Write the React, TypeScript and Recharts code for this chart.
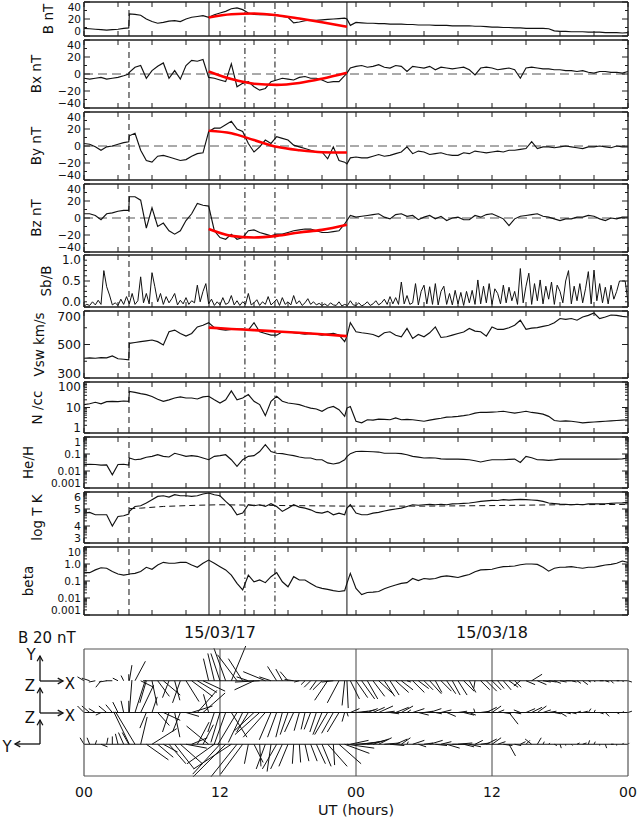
import React from 'react'
import { ComposedChart, Line, ReferenceLine, XAxis, YAxis } from 'recharts'

const FONT = '"DejaVu Sans", Verdana, sans-serif'
const INK = '#111'
const FRAME = '#1e1e1e'
const W = 639
const H = 821
const PLOT_L = 84
const PLOT_R = 628

// hours after 2015-03-17 00 UT
const TIME = [
  0, 0.5, 1, 1.5, 2, 2.5, 3, 3.5, 3.95,
  4, 4.5, 5, 5.5, 6, 6.5, 7, 7.5, 8, 8.5, 9, 9.5,
  10, 10.5, 11, 11.5, 12, 12.5, 13, 13.5, 14, 14.5, 15, 15.5,
  16, 16.5, 17, 17.5, 18, 18.5, 19, 19.5, 20, 20.5, 21, 21.5,
  22, 22.5, 23, 23.2, 23.5,
  24, 24.5, 25, 25.5, 26, 26.5, 27, 27.5, 28, 28.5, 29, 29.5,
  30, 30.5, 31, 31.5, 32, 32.5, 33, 33.5, 34, 34.5, 35, 35.5,
  36, 36.5, 37, 37.5, 38, 38.5, 39, 39.5, 40, 40.5, 41, 41.5,
  42, 42.5, 43, 43.5, 44, 44.5, 45, 45.5, 46, 46.5, 47, 47.5, 48,
]

const B_MAG = [
  9, 8.5, 8, 7.5, 7, 7.5, 8, 9, 9.5,
  26, 25.5, 24.5, 20, 17, 15, 16, 17.5, 18, 17, 20, 22,
  23, 24, 22, 25, 27, 29, 32, 33, 31, 27, 25.5, 25,
  25.5, 24.5, 25, 23, 22, 15.5, 16.5, 18, 18.5, 18.5, 19, 19.5,
  20, 20.5, 21, 20, 12.5,
  16, 15.5, 15, 15, 14.5, 14.5, 14, 14, 14, 13.5, 13.5, 13,
  13, 13, 12.5, 12.5, 12.5, 12, 12, 12, 12, 11.5, 11.5, 11,
  10.5, 10.5, 10, 10, 9.5, 9.5, 9, 9, 9, 9, 8.5, 6,
  5.5, 5.5, 5, 5, 5, 4.5, 4.5, 4.5, 4, 4, 4, 3.5, 4,
]

const BX = [
  -5, -6, -5, -4, -6, -5, -4, -2, 0,
  2, 8, 10, -5, 4, 9, 13, -5, 4, -6, 10, 16,
  15, 17, -4, -5, -7, -9, 12, -15, -11, -9, -15, -19,
  -17, -9, -7, -5, -6, -7, -4, -3, -5, -5, -7, -10,
  -9, -9, -2, 1, 7,
  9, 10, 8, 9, 11, 8, 7, 10, 9, 3, 9, 8,
  7, 9, 5, 8, 7, 6, 7, 8, 5, -1, 7, 8,
  7, 5, 6, 7, 5, -5, 7, 8, 7, 6, 6, 5,
  5, 4, 4, 3, 4, 2, 1, 3, 3, 2, 2, 1, 3,
]

const BY = [
  3, 2, -1, -5, -1, 0, 2, 4, 5,
  12, 15, -5, -17, -19, -12, -11, -13, -15, -17, -16, -12,
  -9, -8, 17, 21, 21, 25, 29, 20, 17, 3, -7, -1,
  7, 3, 11, 9, 7, 1, -1, -3, -5, -7, -7, -15,
  -1, -17, -19, -21, -14,
  -13, -14, -14, -12, -10, -12, -11, -9, -7, -1, -9, -6,
  -7, -10, -9, -8, -10, -11, -11, -8, -9, -6, -7, -8,
  -7, -6, -7, -5, -5, -4, -3, 5, -3, -1, -1, -2,
  -1, 0, -1, -2, -3, -1, -1, 0, -1, -2, 0, -1, -1,
]

const BZ = [
  5, 5, 3, -2, 5, 6, 8, 9, 9,
  25, 25, 21, -12, 12, -10, -6, -15, -19, -15, -3, 5,
  17, 15, 14, -15, -23, -25, -19, -25, -23, -15, -14, -17,
  -19, -21, -19, -19, -17, -15, -14, -13, -13, -15, -17, -17,
  -16, -15, -7, -3, 3,
  1, 2, 3, 4, 5, 1, -1, 4, 5, 2, 3, -2,
  1, 3, -1, 2, -3, 0, 1, -2, -2, 3, 1, 4,
  5, 2, -1, -9, -1, 2, 3, 4, 5, 2, 1, -1,
  -3, -1, -1, 1, 1, 3, 2, -1, -3, 0, -1, 1, 1,
]

const VSW = [
  418, 420, 418, 422, 420, 432, 415, 412, 408,
  507, 512, 517, 522, 527, 517, 497, 576, 586, 566, 550, 566,
  605, 615, 630, 601, 590, 586, 590, 590, 592, 586, 630, 576,
  566, 556, 556, 576, 576, 570, 566, 562, 566, 562, 556, 562,
  566, 556, 517, 550, 630,
  576, 570, 566, 560, 546, 570, 576, 555, 546, 596, 536, 560,
  546, 570, 605, 542, 546, 556, 566, 575, 596, 580, 576, 550,
  605, 590, 590, 600, 615, 645, 590, 598, 601, 608, 615, 630,
  655, 650, 655, 645, 664, 674, 688, 655, 664, 676, 674, 668, 664,
]

const NP = [
  13, 14, 16, 14, 17, 17.5, 17, 18, 17.5,
  43, 39, 35, 32, 27, 21, 17.5, 20, 23.5, 26, 23.5, 23.5,
  21.5, 26, 27.5, 20, 15, 20, 45, 20, 23.5, 32, 17.5, 13,
  4.8, 17.5, 27.5, 17.5, 15, 14, 13, 11, 9.5, 8.7, 7.1, 9.5,
  11, 8.2, 4.5, 9.5, 11,
  2.9, 2.5, 3.3, 3.2, 3.5, 3.4, 3.3, 3.9, 3.3, 3.4, 3.3, 3.1,
  2.9, 3.2, 3.5, 3.8, 4.2, 4.3, 4.5, 4.8, 5.2, 6, 6.5, 6.4,
  6.6, 6.8, 7.1, 6.5, 6, 6.5, 7.1, 6.4, 6, 5.5, 4.5, 3.1,
  2.9, 3, 2.9, 2.7, 2.5, 2.6, 2.7, 2.8, 2.9, 3, 3.1, 3.2, 3.3,
]

const HE_H = [
  0.024, 0.025, 0.024, 0.022, 0.023, 0.006, 0.024, 0.025, 0.022,
  0.058, 0.046, 0.05, 0.064, 0.073, 0.091, 0.073, 0.067, 0.11, 0.091, 0.073, 0.08,
  0.073, 0.058, 0.046, 0.073, 0.08, 0.091, 0.046, 0.019, 0.046, 0.073, 0.08, 0.14,
  0.35, 0.14, 0.11, 0.105, 0.091, 0.08, 0.067, 0.058, 0.058, 0.046, 0.046, 0.03,
  0.026, 0.03, 0.046, 0.07, 0.105,
  0.14, 0.145, 0.14, 0.135, 0.13, 0.11, 0.11, 0.11, 0.105, 0.09, 0.073, 0.065,
  0.058, 0.06, 0.058, 0.052, 0.05, 0.05, 0.05, 0.048, 0.046, 0.04, 0.034, 0.04,
  0.046, 0.046, 0.046, 0.048, 0.05, 0.032, 0.073, 0.06, 0.046, 0.045, 0.042, 0.045,
  0.05, 0.05, 0.05, 0.05, 0.05, 0.05, 0.05, 0.05, 0.05, 0.05, 0.05, 0.052, 0.058,
]

const LOG_T = [
  4.76, 4.8, 4.66, 4.66, 4.66, 4.0, 4.56, 4.6, 4.7,
  4.86, 5.15, 5.19, 5.35, 5.55, 5.74, 5.78, 5.7, 5.84, 5.78, 5.78, 5.74,
  5.78, 5.88, 5.94, 5.84, 5.78, 5.45, 5.15, 4.66, 4.76, 5.25, 5.19, 5.25,
  5.15, 5.31, 5.15, 4.86, 5.05, 5.25, 5.11, 5.05, 4.95, 4.8, 4.76, 4.86,
  4.66, 4.76, 4.66, 5.05, 5.25,
  4.76, 4.66, 4.66, 4.76, 4.8, 4.88, 4.95, 5.0, 5.05, 5.15, 5.25, 5.22,
  5.25, 5.27, 5.25, 5.28, 5.25, 5.3, 5.31, 5.33, 5.35, 5.4, 5.45, 5.48,
  5.51, 5.5, 5.55, 5.52, 5.55, 5.57, 5.55, 5.53, 5.51, 5.45, 5.35, 5.32,
  5.29, 5.27, 5.25, 5.28, 5.25, 5.3, 5.31, 5.3, 5.31, 5.33, 5.35, 5.36, 5.39,
]

const BETA = [
  0.31, 0.31, 0.45, 0.6, 0.56, 0.36, 0.26, 0.22, 0.25,
  0.26, 0.28, 0.36, 0.64, 0.49, 0.87, 1.25, 1.1, 1.1, 1.25, 1.25, 0.87,
  0.64, 1.1, 1.7, 1.1, 0.7, 0.45, 0.22, 0.072, 0.03, 0.22, 0.09, 0.115,
  0.08, 0.18, 0.31, 0.09, 0.046, 0.18, 0.115, 0.115, 0.072, 0.046, 0.037, 0.032,
  0.027, 0.024, 0.027, 0.072, 0.28,
  0.037, 0.016, 0.021, 0.022, 0.024, 0.035, 0.046, 0.058, 0.072, 0.08, 0.14, 0.105,
  0.14, 0.13, 0.14, 0.18, 0.2, 0.18, 0.16, 0.2, 0.24, 0.35, 0.45, 0.47,
  0.49, 0.6, 0.7, 0.72, 0.76, 0.9, 1.0, 1.0, 0.95, 0.64, 0.38, 0.56,
  0.64, 0.66, 0.7, 0.62, 0.56, 0.64, 0.64, 0.75, 0.87, 0.95, 1.1, 1.5, 1.25,
]

// Sb/B at 15 min resolution, 4 h per row
const SB_STEP = 0.25
const SB = [
  0.02, 0.05, 0.03, 0.10, 0.04, 0.13, 0.05, 0.70, 0.39, 0.23, 0.04, 0.08, 0.03, 0.15, 0.05, 0.20,
  0.06, 0.26, 0.05, 0.12, 0.58, 0.08, 0.26, 0.06, 0.66, 0.39, 0.10, 0.26, 0.05, 0.20, 0.08, 0.16,
  0.26, 0.04, 0.13, 0.06, 0.18, 0.05, 0.12, 0.08, 0.42, 0.10, 0.30, 0.45, 0.06, 0.15, 0.03, 0.10,
  0.04, 0.18, 0.05, 0.08, 0.22, 0.04, 0.12, 0.03, 0.10, 0.05, 0.26, 0.04, 0.08, 0.14, 0.03, 0.10,
  0.05, 0.20, 0.04, 0.09, 0.15, 0.03, 0.18, 0.05, 0.10, 0.04, 0.22, 0.06, 0.12, 0.03, 0.08, 0.16,
  0.05, 0.10, 0.04, 0.07, 0.03, 0.06, 0.02, 0.08, 0.04, 0.03, 0.10, 0.02, 0.05, 0.03, 0.12, 0.04,
  0.03, 0.08, 0.02, 0.05, 0.10, 0.03, 0.06, 0.12, 0.04, 0.08, 0.15, 0.05, 0.20, 0.06, 0.18, 0.05,
  0.48, 0.06, 0.22, 0.05, 0.08, 0.45, 0.04, 0.30, 0.42, 0.06, 0.39, 0.05, 0.45, 0.04, 0.30, 0.40,
  0.05, 0.26, 0.04, 0.32, 0.06, 0.28, 0.03, 0.30, 0.08, 0.32, 0.05, 0.52, 0.06, 0.40, 0.08, 0.45,
  0.05, 0.35, 0.26, 0.06, 0.42, 0.08, 0.38, 0.12, 0.30, 0.05, 0.74, 0.08, 0.40, 0.65, 0.05, 0.45,
  0.12, 0.52, 0.06, 0.40, 0.15, 0.48, 0.05, 0.42, 0.30, 0.08, 0.50, 0.70, 0.06, 0.40, 0.12, 0.45,
  0.08, 0.35, 0.68, 0.06, 0.71, 0.12, 0.45, 0.08, 0.38, 0.06, 0.42, 0.15, 0.30, 0.50, 0.50, 0.50,
  0.10,
]

// flux rope fit (red curves)
const FIT_T = [11, 13, 15, 17, 19, 21, 23.2]
const B_FIT = [21.7, 25.6, 26.4, 24.5, 20.6, 16.2, 10.9]
const BX_FIT = [3, -6, -11.5, -12.8, -10.5, -5.5, 1.5]
const BY_FIT = [18, 15, 7, -1, -5, -7.3, -7.6]
const BZ_FIT = [-13, -21, -23, -21, -17, -14, -8]
const V_FIT = [601, 593, 586, 578, 570, 561, 550]

// expected temperature (dashed)
const TEXP_T = [4, 5, 7, 10, 12, 18, 23, 30, 36, 42, 48]
const TEXP = [5.02, 5.05, 5.15, 5.22, 5.25, 5.2, 5.17, 5.17, 5.2, 5.25, 5.27]

// shock, boundaries and sub-intervals
const EVENT_T = [3.97, 11.03, 14.2, 16.85, 23.2]
const EVENT_DASH = ['6 4', undefined, '6 3 1.5 3', '6 3 1.5 3', undefined]

const X_TICKS = [0, 3, 6, 9, 12, 15, 18, 21, 24, 27, 30, 33, 36, 39, 42, 45, 48]
const HOURS = [0, 12, 24, 36, 48]
const HOUR_LABELS = ['00', '12', '00', '12', '00']
const DATE_T = [12, 36]
const DATE_LABELS = ['15/03/17', '15/03/18']

const at = (ts: number[], vs: number[], t: number) => {
  const i = ts.indexOf(t)
  return i < 0 ? null : vs[i]
}

const rows = TIME.map((t, i) => ({
  t,
  b: B_MAG[i],
  bx: BX[i],
  by: BY[i],
  bz: BZ[i],
  v: VSW[i],
  n: NP[i],
  he: HE_H[i],
  lt: LOG_T[i],
  beta: BETA[i],
  bFit: at(FIT_T, B_FIT, t),
  bxFit: at(FIT_T, BX_FIT, t),
  byFit: at(FIT_T, BY_FIT, t),
  bzFit: at(FIT_T, BZ_FIT, t),
  vFit: at(FIT_T, V_FIT, t),
  texp: at(TEXP_T, TEXP, t),
}))
const sbRows = SB.map((v, i) => ({ t: i * SB_STEP, sb: v }))

const AXIS_LINE = { stroke: FRAME, strokeWidth: 1.4 }

const logMinors = (from: number, to: number) => {
  const out: number[] = []
  for (let e = from; e < to; e++) for (let k = 2; k <= 9; k++) out.push(+(k * Math.pow(10, e)).toPrecision(3))
  return out
}

function xTick(side: 'top' | 'bottom', len: number, labels?: Map<number, string>, dy = 17, size = 16) {
  return (p: any) => {
    const v = p.payload.value
    const lab = labels?.get(v)
    const dir = side === 'bottom' ? -1 : 1
    return (
      <g>
        {len > 0 && <line x1={p.x} x2={p.x} y1={p.y} y2={p.y + dir * len} stroke={FRAME} strokeWidth={1} />}
        {lab && (
          <text x={p.x} y={p.y + dy} textAnchor="middle" dominantBaseline="central" fontFamily={FONT} fontSize={size} fill={INK}>
            {lab}
          </text>
        )}
      </g>
    )
  }
}

function yTick(side: 'left' | 'right', labels: Map<number, string>, domain: [number, number], size: number) {
  return (p: any) => {
    const v = p.payload.value
    const lab = labels.get(v)
    const len = lab !== undefined ? 6 : 3
    const dir = side === 'left' ? 1 : -1
    let dy = 0
    if (v === domain[1]) dy = 5
    if (v === domain[0]) dy = -5
    return (
      <g>
        <line x1={p.x} x2={p.x + dir * len} y1={p.y} y2={p.y} stroke={FRAME} strokeWidth={1} />
        {side === 'left' && lab !== undefined && (
          <text x={p.x - 3} y={p.y + dy} textAnchor="end" dominantBaseline="central" fontFamily={FONT} fontSize={size} fill={INK}>
            {lab}
          </text>
        )}
      </g>
    )
  }
}

type PanelProps = {
  top: number
  bottom: number
  data: object[]
  domain: [number, number]
  log?: boolean
  majors: [number, string][]
  minors: number[]
  dates?: boolean
  fontSize?: number
  children?: React.ReactNode
}

function Panel({ top, bottom, data, domain, log, majors, minors, dates, fontSize = 12, children }: PanelProps) {
  const mt = 3
  const mb = dates ? 30 : 3
  const labels = new Map(majors)
  const ticks = [...majors.map((m) => m[0]), ...minors]
  const dateMap = dates ? new Map(DATE_T.map((t, i) => [t, DATE_LABELS[i]] as [number, string])) : undefined
  const yProps = {
    type: 'number' as const,
    domain,
    scale: log ? ('log' as const) : ('linear' as const),
    ticks,
    interval: 0 as const,
    allowDataOverflow: true,
    tickSize: 0,
    tickMargin: 0,
    tickLine: false,
    axisLine: AXIS_LINE,
  }
  const xProps = {
    dataKey: 't',
    type: 'number' as const,
    domain: [0, 48],
    ticks: X_TICKS,
    interval: 0 as const,
    allowDataOverflow: true,
    height: 1,
    tickSize: 0,
    tickMargin: 0,
    tickLine: false,
    axisLine: AXIS_LINE,
  }
  return (
    <div style={{ position: 'absolute', left: 0, top: top - mt }}>
      <ComposedChart width={W} height={bottom - top + mt + mb} data={data} margin={{ top: mt - 1, right: W - PLOT_R - 1, bottom: mb - 1, left: 0 }}>
        <XAxis xAxisId="b" {...xProps} tick={xTick('bottom', 5, dateMap)} />
        <XAxis xAxisId="t" orientation="top" {...xProps} tick={xTick('top', 5)} />
        <YAxis yAxisId="l" width={PLOT_L} {...yProps} tick={yTick('left', labels, domain, fontSize)} />
        <YAxis yAxisId="r" orientation="right" width={1} {...yProps} tick={yTick('right', labels, domain, fontSize)} />
        {EVENT_T.map((t, i) => (
          <ReferenceLine key={`ev${i}`} xAxisId="b" yAxisId="l" x={t} stroke={INK} strokeWidth={1} strokeDasharray={EVENT_DASH[i]} />
        ))}
        {children}
      </ComposedChart>
    </div>
  )
}

const trace = (key: string, width = 1.15) => (
  <Line key={key} xAxisId="b" yAxisId="l" dataKey={key} type="linear" stroke={INK} strokeWidth={width} dot={false} activeDot={false} isAnimationActive={false} />
)
const fit = (key: string) => (
  <Line key={key} xAxisId="b" yAxisId="l" dataKey={key} type="monotone" connectNulls stroke="#ff0000" strokeWidth={2.6} dot={false} activeDot={false} isAnimationActive={false} />
)
const zero = (key: string) => (
  <ReferenceLine key={key} xAxisId="b" yAxisId="l" y={0} stroke="#555" strokeWidth={1} strokeDasharray="9 5" />
)

const FIELD_MAJOR: [number, string][] = [[-40, '−40'], [-20, '−20'], [0, '0'], [20, '20'], [40, '40']]
const FIELD_MINOR = [-30, -10, 10, 30]

// hodogram: stick length 1.3 px per nT
const HODO_TOP = 649
const HODO_BOTTOM = 776
const KX = 1.3 / ((PLOT_R - PLOT_L) / 48)
const KY = (1.3 * 4) / (HODO_BOTTOM - HODO_TOP)
const HODO_ROWS = [
  { base: 3, start: 5.2, u: BX, v: BY, flip: 1 },
  { base: 2, start: 0, u: BX, v: BZ, flip: 1 },
  { base: 1, start: 0, u: BY, v: BZ, flip: -1 },
]

function Hodogram() {
  const mt = 3
  const mb = 30
  const hourMap = new Map(HOURS.map((h, i) => [h, HOUR_LABELS[i]] as [number, string]))
  const frame = { stroke: '#555', strokeWidth: 1.2 }
  return (
    <div style={{ position: 'absolute', left: 0, top: HODO_TOP - mt }}>
      <ComposedChart width={W} height={HODO_BOTTOM - HODO_TOP + mt + mb} data={rows} margin={{ top: mt - 1, right: W - PLOT_R - 1, bottom: mb - 1, left: 0 }}>
        <XAxis xAxisId="b" dataKey="t" type="number" domain={[0, 48]} ticks={HOURS} interval={0} height={1} tickSize={0} tickMargin={0} tickLine={false} axisLine={frame} tick={xTick('bottom', 0, hourMap, 16, 14)} allowDataOverflow />
        <XAxis xAxisId="t" orientation="top" dataKey="t" type="number" domain={[0, 48]} height={1} tick={false} tickLine={false} axisLine={frame} allowDataOverflow />
        <YAxis yAxisId="l" width={PLOT_L} type="number" domain={[0, 4]} tick={false} tickLine={false} axisLine={frame} allowDataOverflow />
        <YAxis yAxisId="r" orientation="right" width={1} type="number" domain={[0, 4]} tick={false} tickLine={false} axisLine={frame} allowDataOverflow />
        {HOURS.slice(1, 4).map((h) => (
          <ReferenceLine key={`h${h}`} xAxisId="b" yAxisId="l" x={h} stroke="#444" strokeWidth={1} />
        ))}
        {HODO_ROWS.map((r, ri) => (
          <ReferenceLine key={`base${ri}`} xAxisId="b" yAxisId="l" segment={[{ x: r.start, y: r.base }, { x: 48, y: r.base }]} stroke={INK} strokeWidth={1} ifOverflow="visible" />
        ))}
        {HODO_ROWS.flatMap((r, ri) =>
          TIME.map((t, i) => (
            <ReferenceLine
              key={`s${ri}-${i}`}
              xAxisId="b"
              yAxisId="l"
              segment={[
                { x: t, y: r.base },
                { x: t + r.flip * r.u[i] * KX, y: r.base + r.v[i] * KY },
              ]}
              stroke={INK}
              strokeWidth={1}
              ifOverflow="visible"
            />
          )),
        )}
      </ComposedChart>
    </div>
  )
}

function Arrow({ x1, y1, x2, y2 }: { x1: number; y1: number; x2: number; y2: number }) {
  const a = Math.atan2(y2 - y1, x2 - x1)
  const h = 6
  const p1 = [x2 - h * Math.cos(a - 0.5), y2 - h * Math.sin(a - 0.5)]
  const p2 = [x2 - h * Math.cos(a + 0.5), y2 - h * Math.sin(a + 0.5)]
  return (
    <g stroke={INK} strokeWidth={1.3} fill="none">
      <line x1={x1} y1={y1} x2={x2} y2={y2} />
      <polyline points={`${p1[0]},${p1[1]} ${x2},${y2} ${p2[0]},${p2[1]}`} />
    </g>
  )
}

const TITLES: [string, number, number, number][] = [
  ['B nT', 48, 2, 36],
  ['Bx nT', 36, 40, 108],
  ['By nT', 36, 112, 180],
  ['Bz nT', 36, 184, 252],
  ['Sb/B', 46, 255, 307],
  ['Vsw km/s', 39, 311, 378],
  ['N\u00a0/cc', 37, 382, 433],
  ['He/H', 28, 437, 488],
  ['log T K', 37, 492, 543],
  ['beta', 28, 547, 615],
]

function Overlay() {
  const txt = { fontFamily: FONT, fill: INK }
  return (
    <svg width={W} height={H} style={{ position: 'absolute', left: 0, top: 0, pointerEvents: 'none' }}>
      {TITLES.map(([s, x, t, b]) => (
        <text key={s} transform={`translate(${x},${(t + b) / 2}) rotate(-90)`} textAnchor="middle" dominantBaseline="central" fontSize={13.5} {...txt}>
          {s}
        </text>
      ))}
      <text x={18} y={638} dominantBaseline="central" fontSize={15} {...txt}>B 20 nT</text>
      <Arrow x1={40} y1={681} x2={40} y2={656} />
      <Arrow x1={40} y1={681} x2={63} y2={681} />
      <Arrow x1={40} y1={713} x2={40} y2={688} />
      <Arrow x1={40} y1={713} x2={63} y2={713} />
      <Arrow x1={40} y1={744} x2={40} y2={720} />
      <Arrow x1={40} y1={744} x2={15} y2={744} />
      <text x={31} y={655} textAnchor="middle" dominantBaseline="central" fontSize={15} {...txt}>Y</text>
      <text x={70} y={684} textAnchor="middle" dominantBaseline="central" fontSize={15} {...txt}>X</text>
      <text x={30} y={686} textAnchor="middle" dominantBaseline="central" fontSize={15} {...txt}>Z</text>
      <text x={70} y={716} textAnchor="middle" dominantBaseline="central" fontSize={15} {...txt}>X</text>
      <text x={30} y={718} textAnchor="middle" dominantBaseline="central" fontSize={15} {...txt}>Z</text>
      <text x={7} y={747} textAnchor="middle" dominantBaseline="central" fontSize={15} {...txt}>Y</text>
      <text x={356} y={810} textAnchor="middle" dominantBaseline="central" fontSize={14.5} {...txt}>UT (hours)</text>
    </svg>
  )
}

const LOG_T_MINORS = [3, 4, 5].flatMap((e) => [2, 3, 4, 5, 6, 7, 8, 9].map((k) => e + Math.log10(k)))

export default function App() {
  return (
    <div style={{ position: 'absolute', left: 0, top: 0, width: W, height: H, background: '#fff', fontFamily: FONT }}>
      <Panel top={2} bottom={36} data={rows} domain={[0, 40]} fontSize={10.5} majors={[[0, '0'], [20, '20'], [40, '40']]} minors={[10, 30]}>
        {trace('b')}
        {fit('bFit')}
      </Panel>
      <Panel top={40} bottom={108} data={rows} domain={[-40, 40]} fontSize={11} majors={FIELD_MAJOR} minors={FIELD_MINOR}>
        {zero('z')}
        {trace('bx')}
        {fit('bxFit')}
      </Panel>
      <Panel top={112} bottom={180} data={rows} domain={[-40, 40]} fontSize={11} majors={FIELD_MAJOR} minors={FIELD_MINOR}>
        {zero('z')}
        {trace('by')}
        {fit('byFit')}
      </Panel>
      <Panel top={184} bottom={252} data={rows} domain={[-40, 40]} fontSize={11} majors={FIELD_MAJOR} minors={FIELD_MINOR}>
        {zero('z')}
        {trace('bz')}
        {fit('bzFit')}
      </Panel>
      <Panel top={255} bottom={307} data={sbRows} domain={[0, 1]} majors={[[0, '0.0'], [0.5, '0.5'], [1, '1.0']]} minors={[0.1, 0.2, 0.3, 0.4, 0.6, 0.7, 0.8, 0.9]}>
        {trace('sb', 1)}
      </Panel>
      <Panel top={311} bottom={378} data={rows} domain={[300, 700]} fontSize={12.5} majors={[[300, '300'], [500, '500'], [700, '700']]} minors={[400, 600]}>
        {trace('v')}
        {fit('vFit')}
      </Panel>
      <Panel top={382} bottom={433} data={rows} domain={[1, 100]} log majors={[[1, '1'], [10, '10'], [100, '100']]} minors={logMinors(0, 2)}>
        {trace('n')}
      </Panel>
      <Panel top={437} bottom={488} data={rows} domain={[0.001, 1]} log fontSize={10.5} majors={[[0.001, '0.001'], [0.01, '0.01'], [0.1, '0.1'], [1, '1']]} minors={logMinors(-3, 0)}>
        {trace('he')}
      </Panel>
      <Panel top={492} bottom={543} data={rows} domain={[3, 6]} fontSize={11} majors={[[3, '3'], [4, '4'], [5, '5'], [6, '6']]} minors={LOG_T_MINORS}>
        <Line key="texp" xAxisId="b" yAxisId="l" dataKey="texp" type="linear" connectNulls stroke={INK} strokeWidth={1} strokeDasharray="6 4" dot={false} activeDot={false} isAnimationActive={false} />
        {trace('lt')}
      </Panel>
      <Panel top={547} bottom={615} data={rows} domain={[0.001, 10]} log dates fontSize={10.5} majors={[[0.001, '0.001'], [0.01, '0.01'], [0.1, '0.1'], [1, '1.0'], [10, '10']]} minors={logMinors(-3, 1)}>
        {trace('beta')}
      </Panel>
      <Hodogram />
      <Overlay />
    </div>
  )
}
